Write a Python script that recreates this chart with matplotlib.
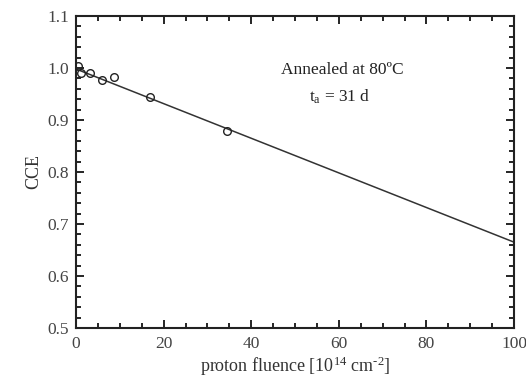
import matplotlib
matplotlib.use("Agg")
import matplotlib.pyplot as plt
from matplotlib.ticker import MultipleLocator, FormatStrFormatter

fluence = [0.5, 1.2, 3.3, 5.9, 8.7, 17.0, 34.4]
cce = [1.004, 0.991, 0.990, 0.977, 0.983, 0.944, 0.878]
fit_x = [0, 100]
fit_y = [0.998, 0.665]

plt.rcParams['font.family'] = ['Liberation Serif', 'DejaVu Serif']
plt.rcParams['mathtext.fontset'] = 'custom'
plt.rcParams['mathtext.rm'] = 'Liberation Serif'
plt.rcParams['mathtext.default'] = 'regular'
fig = plt.figure(figsize=(5.26, 3.8), dpi=100)
ax = fig.add_axes([0.1445, 0.137, 0.9772 - 0.1445, 0.958 - 0.137])

ax.plot(fit_x, fit_y, color='#333333', lw=1.1)
ax.plot(fluence, cce, 'o', mfc='none', mec='#222222', ms=5.5, mew=1.0)

ax.set_xlim(0, 100)
ax.set_ylim(0.5, 1.1)
ax.xaxis.set_major_locator(MultipleLocator(20))
ax.xaxis.set_minor_locator(MultipleLocator(5))
ax.yaxis.set_major_locator(MultipleLocator(0.1))
ax.yaxis.set_minor_locator(MultipleLocator(0.02))
ax.yaxis.set_major_formatter(FormatStrFormatter('%.1f'))
ax.tick_params(which='both', direction='in', top=True, right=True, width=1.2,
               labelsize=12.5, labelcolor='#444444')
ax.tick_params(axis='x', pad=6)
ax.tick_params(axis='y', pad=5)
ax.tick_params(which='major', length=6)
ax.tick_params(which='minor', length=3.5)
for s in ax.spines.values():
    s.set_linewidth(1.5)
    s.set_color('#222222')

ax.set_xlabel('proton fluence [10$^{14}$ cm$^{\\text{-}2}$]', fontsize=13, color='#333333', labelpad=2)
ax.set_ylabel('CCE', fontsize=13, color='#333333', labelpad=4)

ax.text(0.607, 0.827, 'Annealed at 80ºC', transform=ax.transAxes, ha='center',
        va='center', fontsize=12.5, color='#222222')
ax.text(0.603, 0.742, 't$_{a}$ = 31 d', transform=ax.transAxes, ha='center',
        va='center', fontsize=12.5, color='#222222')

fig.savefig('out.png', dpi=100)
